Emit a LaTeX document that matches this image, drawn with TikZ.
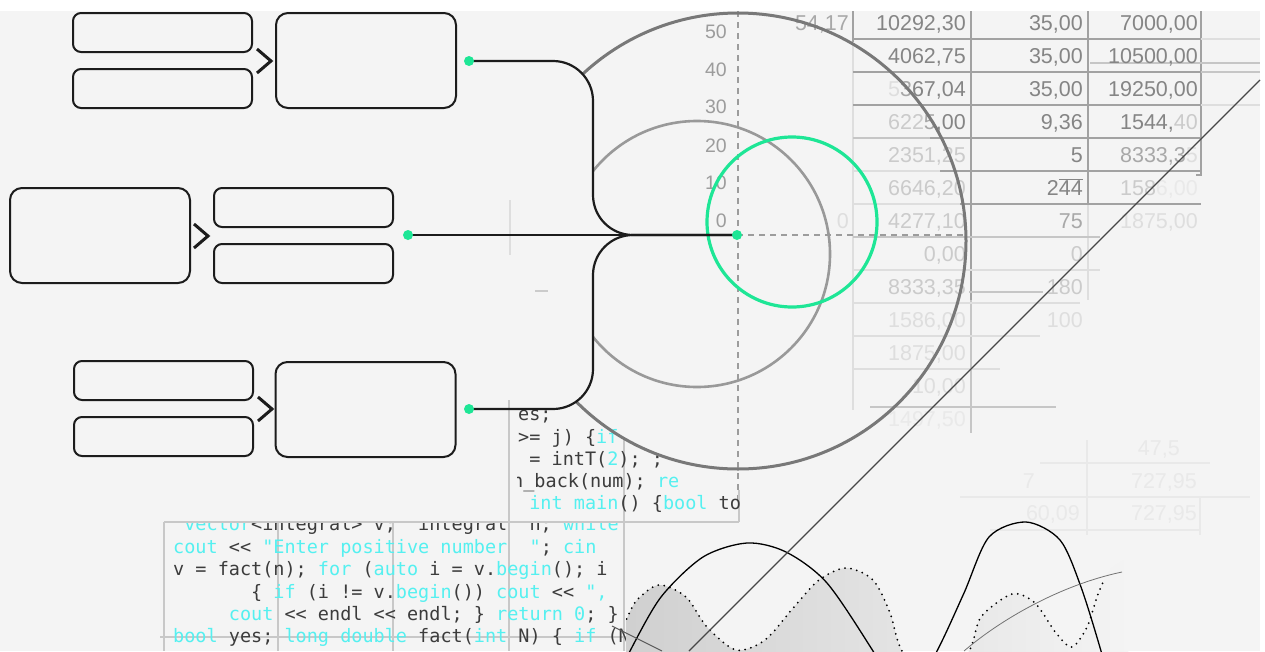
\documentclass[tikz,border=0pt]{standalone}
\usepackage{fontspec}
\setmainfont{Liberation Sans}
\newfontfamily\codefont{DejaVu Sans Mono}
\definecolor{bgc}{HTML}{F4F4F4}
\definecolor{mint}{RGB}{30,230,150}
\definecolor{boxc}{HTML}{1C1C1C}
\definecolor{nA}{HTML}{858585}
\definecolor{nB}{HTML}{A8A8A8}
\definecolor{nC}{HTML}{CBCBCB}
\definecolor{nD}{HTML}{DEDEDE}
\definecolor{nE}{HTML}{E9E9E9}
\definecolor{tlA}{HTML}{A2A2A2}
\definecolor{tlB}{HTML}{C6C6C6}
\definecolor{tlC}{HTML}{DEDEDE}
\definecolor{axc}{HTML}{9C9C9C}
\definecolor{cyn}{HTML}{55F0F0}
\definecolor{cdk}{HTML}{3C3C3C}
\definecolor{gridc}{HTML}{C8C8C8}
\definecolor{wavef}{HTML}{CFCFCF}
\newcommand{\kw}[1]{\textcolor{cyn}{#1}}
\pgfdeclarelayer{back}
\pgfdeclarelayer{mid}
\pgfsetlayers{back,mid,main}
\begin{document}
\begin{tikzpicture}[x=1pt,y=-1pt,
  tnum/.style={font=\fontsize{21.5}{21.5}\selectfont, inner sep=0pt, anchor=base east, text=#1},
  axl/.style={font=\fontsize{19.5}{19.5}\selectfont, inner sep=0pt, anchor=base east, text=axc},
  code/.style={font=\codefont\fontsize{18.5}{18.5}\selectfont\frenchspacing, inner sep=0pt, anchor=base west, text=cdk},
  sbox/.style={draw=boxc, line width=2pt, fill=bgc, rounded corners=8pt, minimum width=179pt, minimum height=39pt, inner sep=0pt},
  bbox/.style={draw=boxc, line width=2pt, fill=bgc, rounded corners=12pt, minimum width=180pt, minimum height=95pt, inner sep=0pt},
  gdot/.style={circle, fill=mint, minimum size=10pt, inner sep=0pt},
  conn/.style={draw=boxc, line width=2.2pt},
  chev/.style={draw=boxc, line width=3pt, line join=miter},
  tla/.style={draw=tlA, line width=1.5pt},
  tlb/.style={draw=tlB, line width=1.5pt},
  tlc/.style={draw=tlC, line width=1.5pt},
  gridl/.style={draw=gridc, line width=2pt},
  axdash/.style={draw=axc, line width=1.5pt, dash pattern=on 6pt off 5pt}
]
\useasboundingbox (0,0) rectangle (1265,651);
\begin{pgfonlayer}{back}
\fill[white] (0,0) rectangle (1265,651);
\fill[bgc] (0,11) rectangle (1260,651);
% ---- table lines
\draw[tla] (853,11) -- (853,42);
\draw[tlc] (853,42) -- (853,410);
\draw[tla] (971,11) -- (971,300);
\draw[tlb] (971,300) -- (971,433);
\draw[tla] (1088,11) -- (1088,205);
\draw[tlc] (1088,205) -- (1088,300);
\draw[tla] (1201,11) -- (1201,175) -- (1196,175);
\draw[tla] (853,39) -- (1201,39);
\draw[tlc] (1201,39) -- (1260,39);
\draw[tlb] (1090,63) -- (1260,63);
\draw[tla] (853,72) -- (1201,72);
\draw[tlb] (1201,72) -- (1260,72);
\draw[tla] (853,105) -- (1201,105);
\draw[tlc] (1201,105) -- (1260,105);
\draw[tlb] (853,138) -- (930,138);
\draw[tla] (930,138) -- (1201,138);
\draw[tlc] (853,171) -- (940,171);
\draw[tla] (940,171) -- (1201,171);
\draw[tlc] (853,204) -- (960,204);
\draw[tla] (960,204) -- (1201,204);
\draw[tlb] (853,237) -- (1100,237);
\draw[tlc] (853,270) -- (1100,270);
\draw[tlb] (969,292) -- (1043,292);
\draw[tlc] (853,303) -- (1080,303);
\draw[tlc] (853,336) -- (1040,336);
\draw[tlc] (853,369) -- (1000,369);
\draw[tlb] (870,407) -- (1056,407);
% faint lower table
\draw[draw=nE, line width=1.5pt] (1087,440) -- (1087,535);
\draw[draw=nE, line width=1.5pt] (1040,463) -- (1210,463);
\draw[draw=nE, line width=1.5pt] (960,497) -- (1250,497);
\draw[draw=nE, line width=1.5pt] (990,530) -- (1200,530);
\draw[draw=nE, line width=1.5pt] (1200,497) -- (1200,535);
% ---- table numbers
\node[tnum=nB] (t01) at (849,30) {54,17};
\node[tnum=nA] (t02) at (966,30) {10292,30};
\node[tnum=nA] (t03) at (1083,30) {35,00};
\node[tnum=nA] (t04) at (1198,30) {7000,00};
\node[tnum=nA] (t05) at (966,63) {4062,75};
\node[tnum=nA] (t06) at (1083,63) {35,00};
\node[tnum=nA] (t07) at (1198,63) {10500,00};
\node[tnum=nA] (t08) at (966,96) {\textcolor{nD}{5}\textcolor{nB}{3}67,04};
\node[tnum=nA] (t09) at (1083,96) {35,00};
\node[tnum=nA] (t10) at (1198,96) {19250,00};
\node[tnum=nA] (t11) at (966,129) {\textcolor{nC}{622}\textcolor{nB}{5},00};
\node[tnum=nA] (t12) at (1083,129) {9,36};
\node[tnum=nA] (t13) at (1198,129) {1544,\textcolor{nC}{40}};
\node[tnum=nC] (t14) at (966,162) {2351,25};
\node[tnum=nA] (t15) at (1083,162) {5};
\node[tnum=nB] (t16) at (1198,162) {8333,3\textcolor{nD}{5}};
\node[tnum=nC] (t17) at (966,195) {6646,20};
\node[tnum=nA] (t18) at (1083,195) {2$\overline{\hbox{44}}$};
\node[tnum=nC] (t19) at (1198,195) {158\textcolor{nE}{6,00}};
\node[tnum=nC] (t20) at (966,228) {4277,10};
\node[tnum=nB] (t21) at (1083,228) {75};
\node[tnum=nD] (t22) at (1198,228) {1875,00};
\node[tnum=nD] (t23) at (849,228) {0};
\node[tnum=nC] (t24) at (966,261) {0,00};
\node[tnum=nC] (t25) at (1083,261) {0};
\node[tnum=nC] (t26) at (966,294) {8333,35};
\node[tnum=nC] (t27) at (1083,294) {180};
\node[tnum=nD] (t28) at (966,327) {1586,00};
\node[tnum=nD] (t29) at (1083,327) {100};
\node[tnum=nD] (t30) at (966,360) {1875,00};
\node[tnum=nD] (t31) at (966,393) {10,00};
\node[tnum=nE] (t32) at (966,426) {1497,50};
\node[tnum=nE] (t33) at (1180,455) {47,5};
\node[tnum=nE] (t34) at (1197,488) {727,95};
\node[tnum=nE] (t35) at (1197,520) {727,95};
\node[tnum=nE] (t36) at (1035,488) {7};
\node[tnum=nE] (t37) at (1080,520) {60,09};
% ---- axis
\node[axl] (ax50) at (727,38) {50};
\node[axl] (ax40) at (727,76) {40};
\node[axl] (ax30) at (727,113) {30};
\node[axl] (ax20) at (727,152) {20};
\node[axl] (ax10) at (727,189) {10};
\node[axl] (ax0) at (727,227) {0};
\draw[axdash] (738,11) -- (738,505);
\draw[axdash] (737,235) -- (966,235);
% ---- code panel grid
\draw[gridl] (164,522) -- (164,651);
\draw[gridl] (278,522) -- (278,651);
\draw[gridl] (393,522) -- (393,651);
\draw[gridl] (509,400) -- (509,651);
\draw[gridl] (624,437) -- (624,651);
\draw[gridl] (739,490) -- (739,522);
\draw[gridl] (164,522) -- (739,522);
\draw[gridl] (160,637) -- (640,637);
% ---- code panel 1 text
\begin{scope}
\clip (517,400) rectangle (741,521);
\node[code] (p1a) at (518,420) {es;};
\node[code] (p1b) at (518,443) {>= j) \{\kw{if}};
\node[code] (p1c) at (518,465) {~= intT(\kw{2}); ;};
\node[code] (p1d) at (512,487) {n\_back(num); \kw{re}};
\node[code] (p1e) at (518,509) {~\kw{int main}() \{\kw{bool} to};
\end{scope}
% ---- code panel 2 text
\begin{scope}
\clip (165,523) rectangle (626,651);
\node[code] (p2a) at (173,530) {~\kw{vector}<integral> v;~~integral~~n; \kw{while}};
\node[code] (p2b) at (173,553) {\kw{cout} << \kw{"Enter positive number~~"}; \kw{cin}};
\node[code] (p2c) at (173,575) {v = fact(n); \kw{for} (\kw{auto} i = v.\kw{begin}(); i};
\node[code] (p2d) at (173,598) {~~~~~~~\{ \kw{if} (i != v.\kw{begin}()) \kw{cout} << \kw{",}};
\node[code] (p2e) at (173,620) {~~~~~\kw{cout} << endl << endl; \} \kw{return 0}; \}};
\node[code] (p2f) at (173,642) {\kw{bool} yes; \kw{long double} fact(\kw{int} N) \{ \kw{if} (N};
\end{scope}
% ---- circles
\draw[draw=nD, line width=2pt] (510,200) -- (510,255);
\draw[draw=nC, line width=2pt] (535,291) -- (548,291);
\begin{scope}
\clip (1265,0) -- (470,0) -- (470,61) [rounded corners=40pt] -- (593,61) -- (593,409) -- (470,409) [sharp corners] -- (470,651) -- (1265,651) -- cycle;
\draw[draw=black!53, line width=3pt] (738,241) circle[radius=228pt];
\draw[draw=black!40, line width=2.6pt] (697,254) circle[radius=133pt];
\end{scope}
\draw[draw=mint, line width=3.2pt] (792,222) circle[radius=85pt];
% ---- waves
\begin{scope}
\clip (626,0) rectangle (1260,651);
\shade[left color=wavef, right color=bgc]
  plot[smooth] coordinates {(615,640) (626,620) (637,600) (659,585) (686,597) (707,627) (736,650) (765,640) (794,607) (819,580) (846,568) (873,580) (890,613) (902,651) (935,690) (969,651) (981,617) (1012,594) (1035,603) (1056,633) (1072,647) (1087,627) (1097,597) (1110,570) (1125,560)}
  -- (1130,700) -- (615,700) -- cycle;
\draw[black, line width=2pt, line cap=round, dash pattern=on 0pt off 6pt]
  plot[smooth] coordinates {(615,640) (626,620) (637,600) (659,585) (686,597) (707,627) (736,650) (765,640) (794,607) (819,580) (846,568) (873,580) (890,613) (902,651) (935,690) (969,651) (981,617) (1012,594) (1035,603) (1056,633) (1072,647) (1087,627) (1097,597) (1104,580)};
\draw[black, line width=1.3pt]
  plot[smooth] coordinates {(622,670) (630,651) (661,597) (703,557) (747,543) (786,552) (827,583) (873,651) (905,705) (937,651) (964,593) (989,537) (1026,522) (1060,540) (1081,587) (1101,651) (1108,680)};
\draw[draw=black!55, line width=0.8pt] (964,651) .. controls (1000,620) and (1060,585) .. (1122,572);
\end{scope}
\draw[draw=black!65, line width=1pt] (612,626) -- (662,651);
% ---- diagonal
\draw[draw=black!72, line width=1.2pt] (1260,80) -- (689,651);
\end{pgfonlayer}
% ---- boxes
\node[sbox] (A1) at (162.5,32.5) {};
\node[sbox] (A2) at (162.5,88.5) {};
\node[bbox] (A3) at (366,60.5) {};
\node[bbox] (B1) at (100,235.5) {};
\node[sbox] (B2) at (303.5,207.5) {};
\node[sbox] (B3) at (303.5,263.5) {};
\node[sbox] (C1) at (163.5,380.5) {};
\node[sbox] (C2) at (163.5,436.5) {};
\node[bbox] (C3) at (365.5,409.5) {};
\draw[chev] (257,49) -- (271,61) -- (257,73);
\draw[chev] (194,224) -- (208,236) -- (194,248);
\draw[chev] (258,397) -- (272,409) -- (258,421);
% ---- dots
\node[gdot] (dA) at (469,61) {};
\node[gdot] (dB) at (408,235) {};
\node[gdot] (dC) at (469,409) {};
\node[gdot] (dO) at (737,235) {};
% ---- connectors
\begin{pgfonlayer}{mid}
\draw[conn, rounded corners=40pt] (dA.center) -- (593,61) -- (593,235) -- (dO.center);
\draw[conn, rounded corners=40pt] (dC.center) -- (593,409) -- (593,235) -- (dO.center);
\draw[conn] (dB.center) -- (dO.center);
\end{pgfonlayer}
\end{tikzpicture}
\end{document}
